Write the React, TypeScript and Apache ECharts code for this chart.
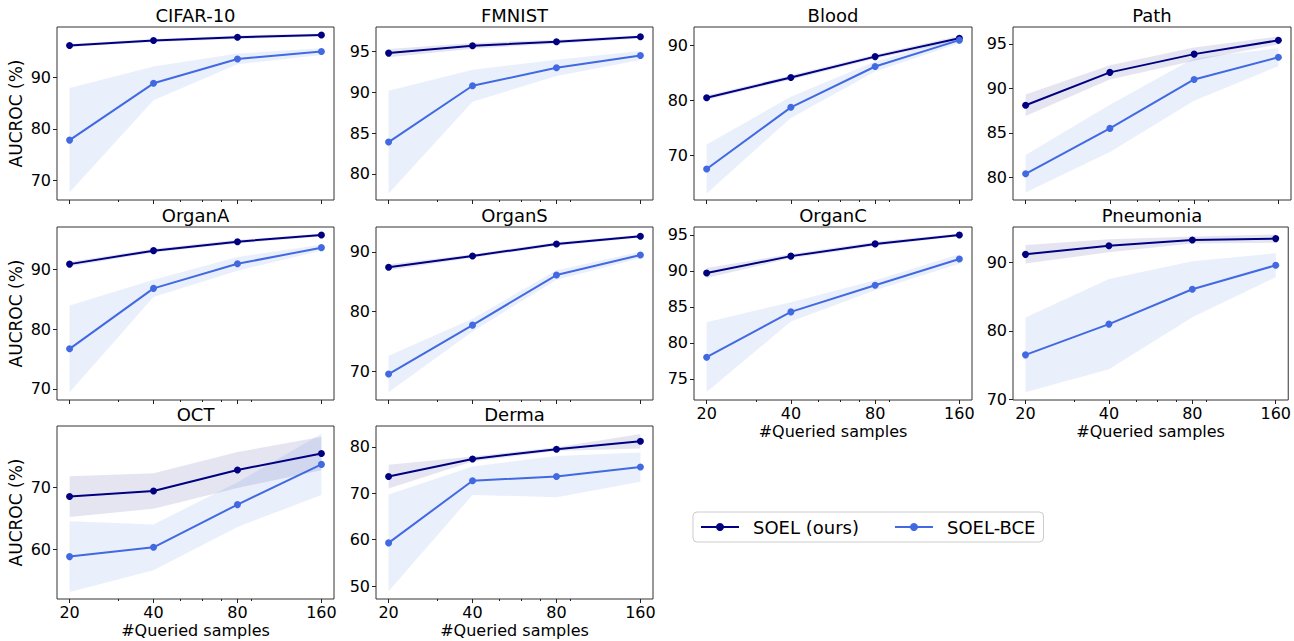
import React, { useEffect, useRef } from "react";
import * as echarts from "echarts";

const queried = [20, 40, 80, 160];
const minorTicks = [30, 50, 60, 70, 90];

const titles = ["CIFAR-10", "FMNIST", "Blood", "Path", "OrganA", "OrganS", "OrganC", "Pneumonia", "OCT", "Derma"];

// mean / std per dataset: SOEL (ours) and SOEL-BCE
const cifarSoel = [96.3, 97.25, 97.9, 98.35];
const cifarSoelSd = [0.3, 0.3, 0.35, 0.3];
const cifarBce = [77.8, 88.9, 93.65, 95.1];
const cifarBceSd = [10.2, 3.3, 1.05, 0.65];

const fmnistSoel = [94.8, 95.7, 96.2, 96.8];
const fmnistSoelSd = [0.5, 0.35, 0.25, 0.2];
const fmnistBce = [83.9, 90.8, 93.0, 94.5];
const fmnistBceSd = [6.3, 1.95, 1.0, 0.55];

const bloodSoel = [80.5, 84.2, 88.0, 91.35];
const bloodSoelSd = [0.4, 0.4, 0.4, 0.45];
const bloodBce = [67.5, 78.75, 86.2, 91.0];
const bloodBceSd = [4.45, 1.95, 0.9, 0.55];

const pathSoel = [88.1, 91.8, 93.85, 95.4];
const pathSoelSd = [1.2, 0.8, 0.75, 0.45];
const pathBce = [80.4, 85.5, 91.0, 93.5];
const pathBceSd = [2.1, 2.65, 2.4, 1.0];

const organASoel = [90.85, 93.1, 94.6, 95.7];
const organASoelSd = [0.4, 0.3, 0.3, 0.25];
const organABce = [76.7, 86.8, 90.9, 93.6];
const organABceSd = [7.25, 1.45, 1.15, 0.5];

const organSSoel = [87.4, 89.3, 91.3, 92.6];
const organSSoelSd = [0.5, 0.3, 0.3, 0.25];
const organSBce = [69.5, 77.7, 86.1, 89.45];
const organSBceSd = [3.05, 1.05, 0.8, 0.55];

const organCSoel = [89.7, 92.05, 93.75, 95.0];
const organCSoelSd = [0.7, 0.3, 0.3, 0.2];
const organCBce = [78.0, 84.3, 88.0, 91.65];
const organCBceSd = [4.85, 1.35, 0.7, 0.65];

const pneuSoel = [91.2, 92.45, 93.3, 93.5];
const pneuSoelSd = [1.35, 0.95, 0.5, 0.6];
const pneuBce = [76.5, 81.0, 86.1, 89.6];
const pneuBceSd = [5.45, 6.6, 4.1, 1.75];

const octSoel = [68.5, 69.4, 72.8, 75.45];
const octSoelSd = [3.3, 2.85, 2.9, 2.7];
const octBce = [58.8, 60.3, 67.2, 73.7];
const octBceSd = [5.7, 3.7, 3.6, 4.95];

const dermaSoel = [73.6, 77.4, 79.5, 81.2];
const dermaSoelSd = [2.55, 0.55, 0.4, 1.55];
const dermaBce = [59.3, 72.7, 73.6, 75.65];
const dermaBceSd = [10.45, 3.05, 4.45, 3.15];

// y-axis limits and tick labels per panel
const yLimits = [
  [66.1, 99.9], [76.8, 98.0], [61.85, 93.4], [77.45, 96.9],
  [68.15, 97.05], [65.15, 94.15], [72.05, 96.1], [69.9, 95.2],
  [51.95, 79.9], [47.2, 84.5],
];
const yTicks = [
  [70, 80, 90], [80, 85, 90, 95], [70, 80, 90], [80, 85, 90, 95],
  [70, 80, 90], [70, 80, 90], [75, 80, 85, 90, 95], [70, 80, 90],
  [60, 70], [50, 60, 70, 80],
];

const panelData = [
  [cifarSoel, cifarSoelSd, cifarBce, cifarBceSd],
  [fmnistSoel, fmnistSoelSd, fmnistBce, fmnistBceSd],
  [bloodSoel, bloodSoelSd, bloodBce, bloodBceSd],
  [pathSoel, pathSoelSd, pathBce, pathBceSd],
  [organASoel, organASoelSd, organABce, organABceSd],
  [organSSoel, organSSoelSd, organSBce, organSBceSd],
  [organCSoel, organCSoelSd, organCBce, organCBceSd],
  [pneuSoel, pneuSoelSd, pneuBce, pneuBceSd],
  [octSoel, octSoelSd, octBce, octBceSd],
  [dermaSoel, dermaSoelSd, dermaBce, dermaBceSd],
];

const FONT = "DejaVu Sans";
const NAVY = "#000080";
const ROYAL = "#4169e1";

const colLefts = [57, 376, 694, 1013];
const colWidths = [277, 277, 278, 278];
const rowTops = [27, 227, 426];
const plotH = 173;
const xLabelPanels = [6, 7, 8, 9];
const yLabelPanels = [0, 4, 8];

function buildOption() {
  const grids: any[] = [];
  const xAxes: any[] = [];
  const yAxes: any[] = [];
  const series: any[] = [];
  const title: any[] = [];
  const lx = queried.map((q) => Math.log2(q));
  const xmin = Math.log2(20) - 0.15;
  const xmax = Math.log2(160) + 0.15;

  panelData.forEach((pd, i) => {
    const r = Math.floor(i / 4);
    const c = i % 4;
    const left = colLefts[c];
    const w = colWidths[c];
    const top = rowTops[r];
    grids.push({
      left, top, width: w, height: plotH,
      show: true, borderColor: "#333", borderWidth: 1,
      backgroundColor: "transparent",
    });
    title.push({
      text: titles[i],
      left: left + w / 2,
      top: top - 21,
      textAlign: "center",
      padding: 0,
      textStyle: { fontFamily: FONT, fontSize: 18, fontWeight: "normal", color: "#000" },
    });
    const showX = xLabelPanels.includes(i);
    xAxes.push({
      type: "value", gridIndex: i, min: xmin, max: xmax, position: "bottom",
      axisLine: { show: false },
      splitLine: { show: false },
      axisTick: { show: true, customValues: lx, length: 4, lineStyle: { color: "#222" } },
      axisLabel: {
        show: showX, customValues: lx, margin: 5,
        formatter: (v: number) => String(Math.round(Math.pow(2, v))),
        fontFamily: FONT, fontSize: 16, color: "#000",
      },
      name: showX ? "#Queried samples" : "",
      nameLocation: "middle", nameGap: 23,
      nameTextStyle: { fontFamily: FONT, fontSize: 16, color: "#000" },
    });
    xAxes.push({
      type: "value", gridIndex: i, min: xmin, max: xmax, position: "bottom",
      axisLine: { show: false },
      splitLine: { show: false },
      axisLabel: { show: false },
      axisTick: { show: true, customValues: minorTicks.map((m) => Math.log2(m)), length: 2, lineStyle: { color: "#222" } },
    });
    const showY = yLabelPanels.includes(i);
    yAxes.push({
      type: "value", gridIndex: i, min: yLimits[i][0], max: yLimits[i][1],
      axisLine: { show: false },
      splitLine: { show: false },
      axisTick: { show: true, customValues: yTicks[i], length: 4, lineStyle: { color: "#222" } },
      axisLabel: { customValues: yTicks[i], margin: 6, fontFamily: FONT, fontSize: 16, color: "#000" },
      name: showY ? "AUCROC (%)" : "",
      nameLocation: "middle", nameGap: 33, nameRotate: 90,
      nameTextStyle: { fontFamily: FONT, fontSize: 17, color: "#000" },
    });

    const [soel, soelSd, bce, bceSd] = pd;
    const xi = 2 * i;
    const bands = [
      { mean: soel, sd: soelSd, color: "rgba(0,0,128,0.10)" },
      { mean: bce, sd: bceSd, color: "rgba(65,105,225,0.11)" },
    ];
    bands.forEach((b) => {
      const pts = lx.map((x, k) => [x, b.mean[k] - b.sd[k], b.mean[k] + b.sd[k]]);
      series.push({
        type: "custom", xAxisIndex: xi, yAxisIndex: i, silent: true, z: 1,
        data: pts,
        encode: { x: 0, y: [1, 2] },
        renderItem: (params: any, api: any) => {
          if (params.dataIndex !== 0) return null;
          const upper = pts.map((p) => api.coord([p[0], p[2]]));
          const lower = pts.map((p) => api.coord([p[0], p[1]])).reverse();
          return {
            type: "polygon",
            shape: { points: upper.concat(lower) },
            style: { fill: b.color, stroke: "none" },
          };
        },
      });
    });
    series.push({
      name: "SOEL (ours)", type: "line", xAxisIndex: xi, yAxisIndex: i,
      data: lx.map((x, k) => [x, soel[k]]),
      symbol: "circle", symbolSize: 7,
      lineStyle: { color: NAVY, width: 2 }, itemStyle: { color: NAVY },
      z: 3,
    });
    series.push({
      name: "SOEL-BCE", type: "line", xAxisIndex: xi, yAxisIndex: i,
      data: lx.map((x, k) => [x, bce[k]]),
      symbol: "circle", symbolSize: 7,
      lineStyle: { color: ROYAL, width: 2 }, itemStyle: { color: ROYAL },
      z: 3,
    });
  });

  return {
    animation: false,
    backgroundColor: "#fff",
    textStyle: { fontFamily: FONT },
    title,
    grid: grids,
    xAxis: xAxes,
    yAxis: yAxes,
    legend: {
      data: ["SOEL (ours)", "SOEL-BCE"],
      left: 693, top: 512,
      orient: "horizontal",
      padding: [6, 8, 6, 7],
      itemGap: 35,
      itemWidth: 38,
      itemHeight: 10,
      borderColor: "#ccc", borderWidth: 1, borderRadius: 4,
      backgroundColor: "#fff",
      selectedMode: false,
      textStyle: { fontFamily: FONT, fontSize: 18, color: "#000", padding: [0, 0, 0, 9] },
    },
    series,
  };
}

export default function App() {
  const ref = useRef<HTMLDivElement>(null);
  useEffect(() => {
    document.body.style.margin = "0";
    if (!ref.current) return;
    const chart = echarts.init(ref.current, undefined, { renderer: "svg" });
    chart.setOption(buildOption() as any);
    return () => chart.dispose();
  }, []);
  return <div ref={ref} style={{ width: 1294, height: 641 }} />;
}
